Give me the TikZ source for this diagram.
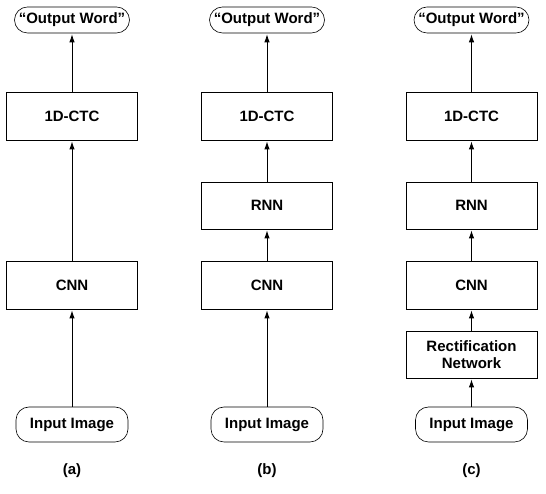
\documentclass[tikz,border=0pt]{standalone}
\usepackage{fontspec}
\setmainfont{Liberation Sans}
\usetikzlibrary{arrows.meta}
\begin{document}
\begin{tikzpicture}[x=1pt,y=1pt,
  font=\bfseries\fontsize{15}{17}\selectfont,
  blk/.style={draw, line width=0.9pt, minimum width=131pt, minimum height=48pt, inner sep=0pt, align=center},
  term/.style={draw, line width=0.6pt, rounded corners=13pt, minimum height=30pt, inner sep=0pt},
  arr/.style={-{Latex[length=8pt,width=5.5pt]}, line width=0.9pt, shorten >=1pt},
  sublab/.style={inner sep=0pt}]
\useasboundingbox (0,0) rectangle (546,494);
% column a
\node[term, minimum width=115pt, minimum height=26pt] (ao) at (72,474) {“Output Word”};
\node[blk] (actc) at (72,378) {1D-CTC};
\node[blk] (acnn) at (72,209) {CNN};
\node[term, minimum width=112pt, minimum height=35pt] (ain) at (72,69.5) {Input Image};
\node[sublab] (alab) at (72,23) {(a)};
\draw[arr] (ain) -- (acnn);
\draw[arr] (acnn) -- (actc);
\draw[arr] (actc) -- (ao);
% column b
\node[term, minimum width=115pt, minimum height=26pt] (bo) at (267,474) {“Output Word”};
\node[blk] (bctc) at (267,378) {1D-CTC};
\node[blk, minimum height=47pt] (brnn) at (267,288.5) {RNN};
\node[blk] (bcnn) at (267,209) {CNN};
\node[term, minimum width=112pt, minimum height=35pt] (bin) at (267,69.5) {Input Image};
\node[sublab] (blab) at (267,23) {(b)};
\draw[arr] (bin) -- (bcnn);
\draw[arr] (bcnn) -- (brnn);
\draw[arr] (brnn) -- (bctc);
\draw[arr] (bctc) -- (bo);
% column c
\node[term, minimum width=115pt, minimum height=26pt] (co) at (471.5,474) {“Output Word”};
\node[blk] (cctc) at (471.5,378) {1D-CTC};
\node[blk, minimum height=47pt] (crnn) at (471.5,288.5) {RNN};
\node[blk] (ccnn) at (471.5,209) {CNN};
\node[blk, minimum height=47pt] (crect) at (471.5,139.5) {Rectification\\Network};
\node[term, minimum width=112pt, minimum height=35pt] (cin) at (471.5,69.5) {Input Image};
\node[sublab] (clab) at (471.5,23) {(c)};
\draw[arr] (cin) -- (crect);
\draw[arr] (crect) -- (ccnn);
\draw[arr] (ccnn) -- (crnn);
\draw[arr] (crnn) -- (cctc);
\draw[arr] (cctc) -- (co);
\end{tikzpicture}
\end{document}
